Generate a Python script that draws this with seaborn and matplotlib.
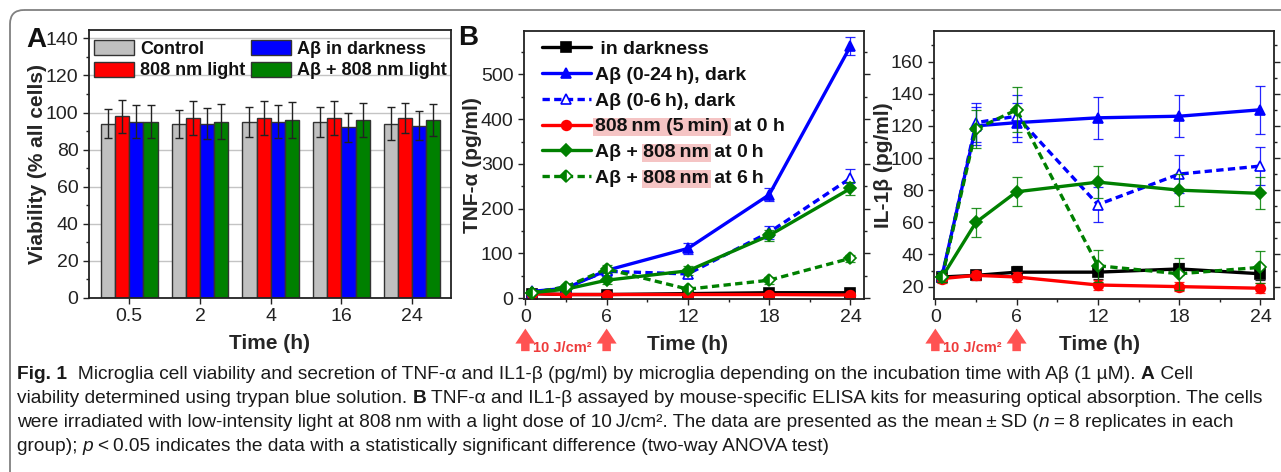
import numpy as np
import pandas as pd
import matplotlib
import matplotlib.pyplot as plt
import seaborn as sns
from matplotlib import font_manager
from matplotlib.patches import Rectangle, FancyBboxPatch
from matplotlib.ticker import MultipleLocator

# ---- data: panel A (viability) ----
times_a = ['0.5', '2', '4', '16', '24']
groups_a = ['Control', '808 nm light', 'A\u03b2 in darkness', 'A\u03b2 + 808 nm light']
colors_a = ['#c0c0c0', '#ff0000', '#0000ff', '#008000']
viab_control = [94, 94, 95, 95, 94]
viab_808 = [98, 97, 97, 97, 97]
viab_ab = [95, 94, 95, 92, 93]
viab_ab808 = [95, 95, 96, 96, 96]
sd_control = [8, 7.5, 8, 8, 9]
sd_808 = [9, 9, 9, 9, 8]
sd_ab = [9, 8.5, 9, 8, 8]
sd_ab808 = [9, 9.5, 9.5, 9, 8.5]

# ---- data: panel B (cytokines) ----
t_hours = [0.5, 3, 6, 12, 18, 24]
series_labels = [' in darkness', 'A\u03b2 (0-24\u2009h), dark', 'A\u03b2 (0-6\u2009h), dark',
                 '808\u2009nm (5\u2009min) at 0 h', 'A\u03b2 + 808\u2009nm at 0\u2009h',
                 'A\u03b2 + 808\u2009nm at 6\u2009h']
tnf_dark = [10, 8, 8, 10, 12, 12]
tnf_ab24 = [15, 22, 62, 111, 231, 563]
tnf_ab6 = [12, 25, 60, 54, 147, 268]
tnf_808 = [10, 8, 8, 8, 8, 7]
tnf_ab808_0 = [12, 20, 40, 61, 140, 245]
tnf_ab808_6 = [12, 25, 65, 20, 40, 89]
tnf_sd_dark = [3, 3, 3, 3, 3, 3]
tnf_sd_ab24 = [4, 5, 8, 12, 15, 20]
tnf_sd_ab6 = [3, 5, 8, 10, 15, 20]
tnf_sd_808 = [3, 3, 3, 3, 3, 3]
tnf_sd_ab808_0 = [3, 5, 8, 10, 12, 15]
tnf_sd_ab808_6 = [3, 5, 10, 5, 8, 8]

il_dark = [26, 27, 29, 29, 31, 28]
il_ab24 = [27, 120, 122, 125, 126, 130]
il_ab6 = [26, 122, 126, 71, 90, 95]
il_808 = [25, 27, 26, 21, 20, 19]
il_ab808_0 = [26, 60, 79, 85, 80, 78]
il_ab808_6 = [26, 118, 130, 33, 28, 32]
il_sd_dark = [3, 3, 4, 4, 4, 4]
il_sd_ab24 = [3, 12, 12, 13, 13, 15]
il_sd_ab6 = [3, 12, 13, 11, 12, 12]
il_sd_808 = [3, 3, 3, 3, 3, 3]
il_sd_ab808_0 = [3, 9, 9, 10, 10, 10]
il_sd_ab808_6 = [3, 12, 14, 10, 10, 10]

light_times = [0, 6]
dose_label = '10 J/cm\u00b2'

caption_lines = [
    [('Fig. 1', 'bold', 'normal'),
     ('  Microglia cell viability and secretion of TNF-\u03b1 and IL1-\u03b2 (pg/ml) by microglia depending on the incubation time with A\u03b2 (1 \u00b5M). ', 'normal', 'normal'),
     ('A', 'bold', 'normal'), (' Cell', 'normal', 'normal')],
    [('viability determined using trypan blue solution. ', 'normal', 'normal'), ('B', 'bold', 'normal'),
     (' TNF-\u03b1 and IL1-\u03b2 assayed by mouse-specific ELISA kits for measuring optical absorption. The cells', 'normal', 'normal')],
    [('were irradiated with low-intensity light at 808\u2009nm with a light dose of 10\u2009J/cm\u00b2. The data are presented as the mean\u2009\u00b1\u2009SD (', 'normal', 'normal'),
     ('n', 'normal', 'italic'), ('\u2009=\u20098 replicates in each', 'normal', 'normal')],
    [('group); ', 'normal', 'normal'), ('p', 'normal', 'italic'),
     ('\u2009<\u20090.05 indicates the data with a statistically significant difference (two-way ANOVA test)', 'normal', 'normal')],
]
caption_widths = [1196, 1248, 1223]

sns.set_theme(style='ticks')
plt.rcParams['font.family'] = ['Liberation Sans', 'DejaVu Sans']
plt.rcParams['axes.edgecolor'] = '#222222'
plt.rcParams['axes.linewidth'] = 1.3
plt.rcParams['xtick.color'] = '#222222'
plt.rcParams['ytick.color'] = '#222222'
plt.rcParams['text.color'] = '#111111'

W, H = 1281, 472
fig = plt.figure(figsize=(W / 100, H / 100), dpi=100)


def px_axes(left, top, right, bottom):
    return fig.add_axes([left / W, 1 - bottom / H, (right - left) / W, (bottom - top) / H])


# background axes for border + caption in pixel coords
bg = fig.add_axes([0, 0, 1, 1])
bg.set_xlim(0, W)
bg.set_ylim(H, 0)
bg.set_axis_off()
bg.add_patch(FancyBboxPatch((10, 10), 1400, 520, boxstyle='round,pad=0,rounding_size=14',
                            ec='#808080', fc='none', lw=1.3))

# ---------------- panel A ----------------
axA = px_axes(89, 30, 451, 298)
viab = [viab_control, viab_808, viab_ab, viab_ab808]
sds = [sd_control, sd_808, sd_ab, sd_ab808]
df_a = pd.DataFrame({
    'time': np.tile(times_a, len(groups_a)),
    'group': np.repeat(groups_a, len(times_a)),
    'value': np.concatenate(viab),
})
sns.barplot(data=df_a, x='time', y='value', hue='group', order=times_a, hue_order=groups_a,
            palette=colors_a, edgecolor='#333333', linewidth=1.0, errorbar=None, saturation=1,
            ax=axA)
for cont, sd in zip(axA.containers, sds):
    xs = [b.get_x() + b.get_width() / 2 for b in cont]
    hs = [b.get_height() for b in cont]
    axA.errorbar(xs, hs, yerr=sd, fmt='none', ecolor='#222222', elinewidth=1, capsize=3, capthick=1)
axA.set_xlim(-0.57, 4.55)
axA.set_ylim(0, 144.5)
axA.yaxis.set_major_locator(MultipleLocator(20))
axA.yaxis.set_minor_locator(MultipleLocator(10))
axA.grid(axis='y', color='#c4c4c4', lw=1)
axA.set_axisbelow(True)
axA.tick_params(axis='both', which='major', labelsize=14, length=4, width=1, direction='out')
axA.tick_params(axis='y', which='minor', length=2.5, width=1, left=True)
axA.set_xlabel('Time (h)', fontsize=15, fontweight='bold')
axA.set_ylabel('Viability (% all cells)', fontsize=15, fontweight='bold')
axA.xaxis.set_label_coords(0.5, -0.135)
axA.yaxis.set_label_coords(-0.115, 0.5)
for s in axA.spines.values():
    s.set_visible(True)
axA.legend(loc='upper left', bbox_to_anchor=(0.015, 0.962), ncol=2, frameon=False,
           prop={'size': 13, 'weight': 'bold'}, handlelength=2.2, handleheight=0.9,
           handletextpad=0.35, columnspacing=0.3, labelspacing=0.2, borderpad=0,
           borderaxespad=0)
fig.text(26 / W, 1 - 40 / H, 'A', fontsize=20, fontweight='bold', va='center', ha='left')

# ---------------- panel B ----------------
styles = [
    dict(color='black', marker='s', ls='-', mfc='black', mec='black'),
    dict(color='#0000ff', marker='^', ls='-', mfc='#0000ff', mec='#0000ff'),
    dict(color='#0000ff', marker='^', ls=(0, (2.2, 1.3)), mfc='white', mec='#0000ff'),
    dict(color='#ff0000', marker='o', ls='-', mfc='#ff0000', mec='#ff0000'),
    dict(color='#008000', marker='D', ls='-', mfc='#008000', mec='#008000'),
    dict(color='#008000', marker='D', ls=(0, (2.2, 1.3)), mfc='#008000', mec='#008000',
         fillstyle='left', markerfacecoloralt='white'),
]


def draw_cyto(ax, values, errs):
    for i, (vals, err, st, lab) in enumerate(zip(values, errs, styles, series_labels)):
        ax.errorbar(t_hours, vals, yerr=err, fmt='none', ecolor=st['color'], elinewidth=0.9,
                    capsize=3.5, capthick=0.9, alpha=0.85, zorder=2 + i * 0.1)
        extra = {}
        if 'fillstyle' in st:
            extra = dict(fillstyle=st['fillstyle'], markerfacecoloralt=st['markerfacecoloralt'])
        sns.lineplot(x=t_hours, y=vals, ax=ax, color=st['color'], linestyle=st['ls'], lw=2.4,
                     marker=st['marker'], markersize=7 if st['marker'] != 'D' else 6,
                     markerfacecolor=st['mfc'], markeredgecolor=st['mec'], markeredgewidth=1.2,
                     label=lab, zorder=2.05 + i * 0.1, **extra)
    ax.set_xlim(-0.1, 25)
    ax.xaxis.set_major_locator(MultipleLocator(6))
    ax.xaxis.set_minor_locator(MultipleLocator(3))
    ax.tick_params(axis='both', which='major', labelsize=14, length=4, width=1, direction='out')
    ax.tick_params(axis='both', which='minor', length=2.5, width=1, direction='out')
    ax.tick_params(axis='y', which='both', right=True, direction='out')
    for s in ax.spines.values():
        s.set_visible(True)
    ax.set_xlabel('Time (h)', fontsize=15, fontweight='bold')
    for t in light_times:
        ax.annotate('', xy=(t, -0.1), xytext=(t, -0.205),
                    xycoords=ax.get_xaxis_transform(),
                    arrowprops=dict(arrowstyle='simple,head_width=0.8,head_length=0.6,tail_width=0.34',
                                    mutation_scale=18, fc='#ff5252', ec='none'),
                    annotation_clip=False)
    ax.text(light_times[0] + 0.6, -0.182, dose_label, transform=ax.get_xaxis_transform(),
            color='#ee3b3b', fontsize=10.5, fontweight='bold', va='center', ha='left')


axT = px_axes(524, 31, 864, 299)
draw_cyto(axT, [tnf_dark, tnf_ab24, tnf_ab6, tnf_808, tnf_ab808_0, tnf_ab808_6],
          [tnf_sd_dark, tnf_sd_ab24, tnf_sd_ab6, tnf_sd_808, tnf_sd_ab808_0, tnf_sd_ab808_6])
axT.set_ylim(-2, 597)
axT.yaxis.set_major_locator(MultipleLocator(100))
axT.yaxis.set_minor_locator(MultipleLocator(50))
axT.set_ylabel('TNF-\u03b1 (pg/ml)', fontsize=15, fontweight='bold')
axT.yaxis.set_label_coords(-0.125, 0.5)
axT.xaxis.set_label_coords(0.48, -0.135)
legB = axT.legend(loc='upper left', bbox_to_anchor=(0.053, 0.965), frameon=False,
                  prop={'size': 14, 'weight': 'bold'}, handlelength=2.5, handletextpad=0.25,
                  labelspacing=0.42, borderpad=0, borderaxespad=0)
fig.text(458 / W, 1 - 38 / H, 'B', fontsize=20, fontweight='bold', va='center', ha='left')

axI = px_axes(934, 31, 1274, 299)
draw_cyto(axI, [il_dark, il_ab24, il_ab6, il_808, il_ab808_0, il_ab808_6],
          [il_sd_dark, il_sd_ab24, il_sd_ab6, il_sd_808, il_sd_ab808_0, il_sd_ab808_6])
axI.set_ylim(12.3, 179)
axI.yaxis.set_major_locator(MultipleLocator(20))
axI.yaxis.set_minor_locator(MultipleLocator(10))
axI.set_ylabel('IL-1\u03b2 (pg/ml)', fontsize=15, fontweight='bold')
axI.yaxis.set_label_coords(-0.121, 0.5)
axI.xaxis.set_label_coords(0.488, -0.135)
if axI.get_legend() is not None:
    axI.get_legend().remove()

# ---- pink highlights behind legend text ----
highlights = [
    (series_labels[3], '', '808\u2009nm (5\u2009min)'),
    (series_labels[4], 'A\u03b2 + ', '808\u2009nm'),
    (series_labels[5], 'A\u03b2 + ', '808\u2009nm'),
]
fig.canvas.draw()
renderer = fig.canvas.get_renderer()


def text_w(s, fp):
    return renderer.get_text_width_height_descent(s, fp, ismath=False)[0]


inv = axT.transAxes.inverted()
for txt in legB.get_texts():
    for lab, pre, hl in highlights:
        if txt.get_text() == lab:
            bb = txt.get_window_extent(renderer)
            fp = txt.get_fontproperties()
            x0 = bb.x0 + (text_w(pre + hl, fp) - text_w(hl, fp) if pre else 0) - 2
            x1 = x0 + text_w(hl, fp) + 4
            (ax0, ay0), (ax1, ay1) = inv.transform([(x0, bb.y0 - 1), (x1, bb.y1)])
            axT.add_patch(Rectangle((ax0, ay0), ax1 - ax0, ay1 - ay0, transform=axT.transAxes,
                                    fc='#f5c4c4', ec='none', zorder=4))

# ---- caption ----
names = {f.name for f in font_manager.fontManager.ttflist}
cap_font = 'Liberation Sans Narrow' if 'Liberation Sans Narrow' in names else 'Liberation Sans'
cap_family = [cap_font, 'DejaVu Sans']
ratios = []
for line, target in zip(caption_lines, caption_widths):
    probe = bg.text(0, 0, ''.join(p[0] for p in line), fontsize=12, family=cap_family)
    ratios.append(target / probe.get_window_extent(renderer).width)
    probe.remove()
cap_size = 12 * min(ratios)

baselines = [383, 407, 431, 455]
for line, yb in zip(caption_lines, baselines):
    prev = None
    for text, weight, style in line:
        kw = dict(fontsize=cap_size, fontweight=weight, fontstyle=style, family=cap_family,
                  color='#1a1a1a', va='bottom', ha='left')
        if prev is None:
            prev = bg.text(17, yb, text, **kw)
        else:
            prev = bg.annotate(text, xy=(1, 0), xycoords=prev, **kw)

fig.savefig('out.png', dpi=100)
